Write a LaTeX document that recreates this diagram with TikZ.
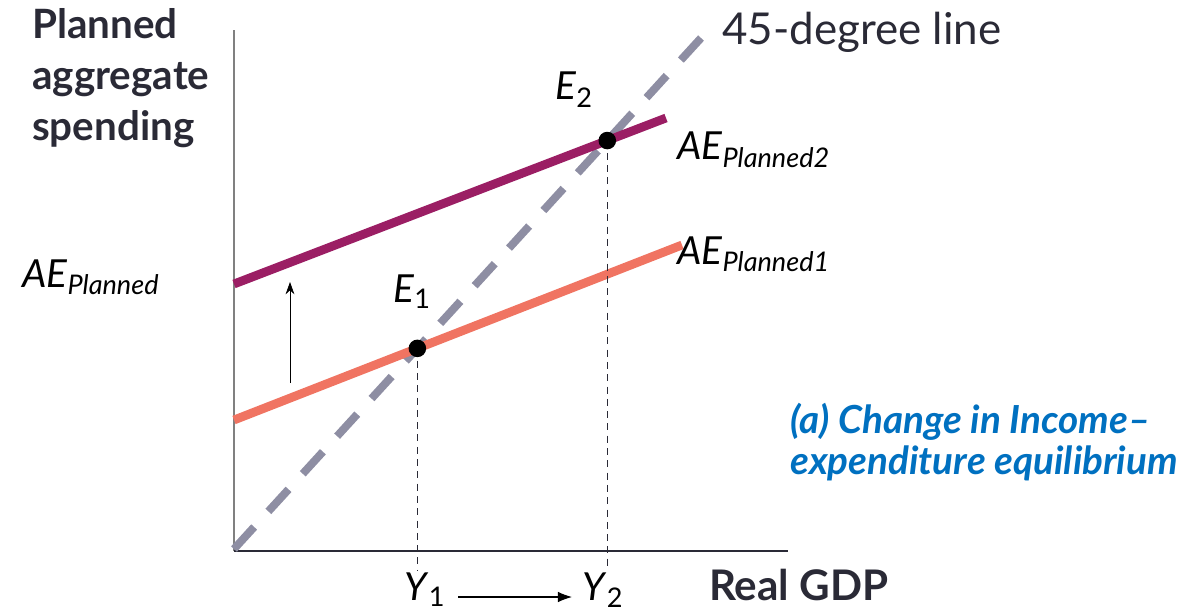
\documentclass[tikz,border=0pt]{standalone}
\usepackage{fontspec}
\setmainfont{Lato}
\usepackage{xcolor}
\usepackage{tikz}
\usetikzlibrary{arrows.meta,calc,intersections}
\definecolor{TextoOscuro}{RGB}{42,42,54}
\definecolor{GrisCuarenta}{RGB}{142,142,163}
\definecolor{SalmonAE}{RGB}{240,116,98}
\definecolor{MoradoAE}{RGB}{155,30,100}
\definecolor{AzulTitulo}{RGB}{0,112,192}

\begin{document}
\begin{tikzpicture}[x=0.02cm,y=-0.02cm,>={Latex[length=8pt,width=6pt]}]
  \useasboundingbox (0,0) rectangle (1189,611);
  % ejes
  \coordinate (O) at (234,551);
  \coordinate (Ytop) at (234,30);
  \coordinate (Xend) at (788,551);
  \draw[gray,semithick] (O)--(Ytop);
  \draw[TextoOscuro,semithick] (O)--(Xend);
  % rectas
  \coordinate (D0) at (234,549);
  \coordinate (D1) at (712,26);
  \draw[GrisCuarenta,line width=4.5pt,dash pattern=on 17pt off 12pt,name path=cuarenta] (D0)--(D1);
  \coordinate (A1) at (234,420);
  \coordinate (B1) at (682,245);
  \coordinate (A2) at (234,284);
  \coordinate (B2) at (666,118);
  \draw[SalmonAE,line width=5pt,name path=ae1] (A1)--(B1);
  \draw[MoradoAE,line width=5pt,name path=ae2] (A2)--(B2);
  \path[name intersections={of=cuarenta and ae1,by=E1}];
  \path[name intersections={of=cuarenta and ae2,by=E2}];
  % equilibrios
  \coordinate (Y1) at ($(E1|-O)+(0,20)$);
  \coordinate (Y2) at ($(E2|-O)+(0,20)$);
  \draw[TextoOscuro,thick,dash pattern=on 4pt off 3pt] (E1)--(Y1);
  \draw[TextoOscuro,thick,dash pattern=on 4pt off 3pt] (E2)--(Y2);
  \fill (E1) circle (5pt);
  \fill (E2) circle (5pt);
  \node[anchor=base] (lE1) at (412,302) {\fontsize{22}{26}\selectfont\textit{E}\textsubscript{1}};
  \node[anchor=base] (lE2) at (574,100) {\fontsize{22}{26}\selectfont\textit{E}\textsubscript{2}};
  % desplazamiento
  \coordinate (F0) at (290,383);
  \coordinate (F1) at (290,282);
  \draw[-{Stealth[length=7pt,width=5pt]},thin] (F0)--(F1);
  \node[anchor=base] (lY1) at (425,600) {\fontsize{22}{26}\selectfont\textit{Y}\textsubscript{1}};
  \node[anchor=base] (lY2) at (603,600) {\fontsize{22}{26}\selectfont\textit{Y}\textsubscript{2}};
  \coordinate (G0) at (458,597);
  \coordinate (G1) at (572,597);
  \draw[->,semithick] (G0)--(G1);
  % textos
  \node[anchor=north west,align=left,TextoOscuro,font=\bfseries\fontsize{23}{29}\selectfont] (ejeY) at (26,2) {Planned\\aggregate\\spending};
  \node[anchor=base west,TextoOscuro,font=\bfseries\fontsize{24}{28}\selectfont] (ejeX) at (703,600) {Real GDP};
  \node[anchor=base west] (lAE) at (16,287) {\fontsize{22}{26}\selectfont\textit{AE}\textsubscript{\textit{Planned}}};
  \node[anchor=base west] (lAE2) at (671,160) {\fontsize{22}{26}\selectfont\textit{AE}\textsubscript{\textit{Planned2}}};
  \node[anchor=base west] (lAE1) at (671,264) {\fontsize{22}{26}\selectfont\textit{AE}\textsubscript{\textit{Planned1}}};
  \node[anchor=base west,TextoOscuro] (l45) at (716,45) {\fontsize{25}{29}\selectfont 45-degree line};
  \node[anchor=base west,AzulTitulo,align=left,font=\bfseries\itshape\fontsize{22}{23}\selectfont] (titulo) at (784,474) {(a) Change in Income–\\expenditure equilibrium};
\end{tikzpicture}
\end{document}
